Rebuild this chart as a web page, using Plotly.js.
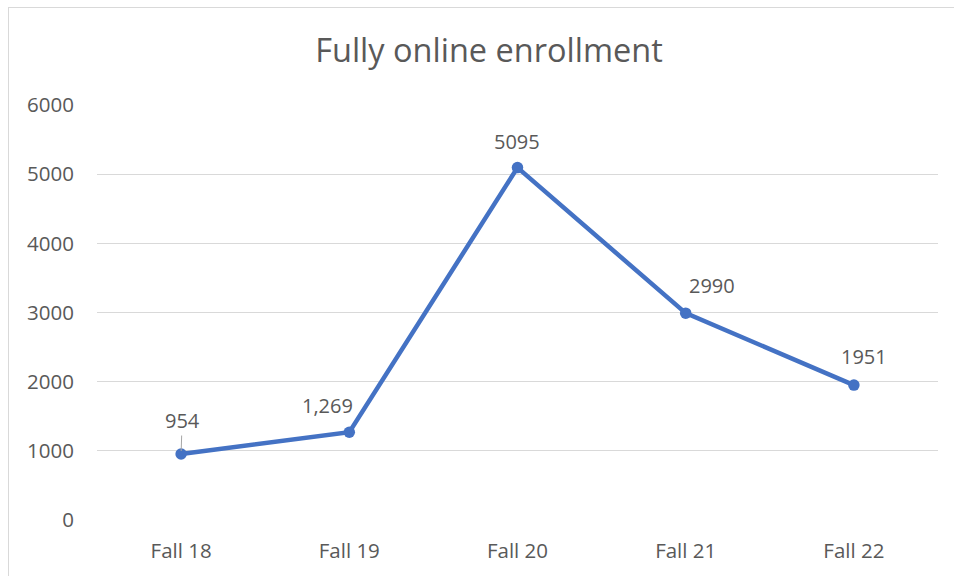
<!DOCTYPE html>
<html>
<head>
<meta charset="utf-8">
<script src="https://cdn.plot.ly/plotly-3.0.1.min.js"></script>
<style>
  html, body { margin: 0; padding: 0; background: #ffffff; }
  #frame { position: absolute; left: 8px; top: 7px; width: 960px; height: 600px; border: 1px solid #d9d9d9; box-sizing: border-box; }
  #chart { position: absolute; left: 0; top: 0; width: 954px; height: 576px; }
</style>
</head>
<body>
<div id="frame"></div>
<div id="chart"></div>
<script>
const categories = ["Fall 18", "Fall 19", "Fall 20", "Fall 21", "Fall 22"];
const enrollment = [954, 1269, 5095, 2990, 1951];
const valueLabels = ["954", "1,269", "5095", "2990", "1951"];
const yTicks = [0, 1000, 2000, 3000, 4000, 5000, 6000];

const FONT = "Open Sans, sans-serif";
const TEXT = "#595959";
const BLUE = "#4472C4";

const labelShift = [[1, 33.5], [-22, 26.5], [-1, 26.5], [26, 28], [10.5, 29]];

const annotations = categories.map((c, i) => {
  const base = {
    x: c, y: enrollment[i], xref: "x", yref: "y",
    text: valueLabels[i],
    font: { family: FONT, size: 20, color: TEXT }
  };
  if (i === 0) {
    return Object.assign(base, {
      showarrow: true, arrowhead: 0, arrowwidth: 1, arrowcolor: "#a6a6a6",
      ax: labelShift[i][0], ay: -labelShift[i][1], standoff: 3
    });
  }
  return Object.assign(base, {
    showarrow: false, xshift: labelShift[i][0], yshift: labelShift[i][1]
  });
});

const trace = {
  type: "scatter", mode: "lines+markers",
  x: categories, y: enrollment,
  line: { color: BLUE, width: 4.5 },
  marker: { color: BLUE, size: 11.5 },
  hoverinfo: "x+y"
};

const layout = {
  width: 954, height: 576,
  paper_bgcolor: "rgba(0,0,0,0)", plot_bgcolor: "rgba(0,0,0,0)",
  margin: { l: 97, r: 16, t: 105, b: 56, pad: 0 },
  showlegend: false,
  title: {
    text: "Fully online enrollment",
    font: { family: FONT, size: 32.5, color: TEXT },
    xref: "container", yref: "container",
    x: 489 / 954, xanchor: "center",
    y: 1 - 51 / 576, yanchor: "middle"
  },
  xaxis: {
    type: "category", range: [-0.5, 4.5],
    showgrid: false, zeroline: false, showline: false,
    ticks: "outside", ticklen: 12, tickcolor: "rgba(0,0,0,0)",
    tickfont: { family: FONT, size: 20.5, color: TEXT }
  },
  yaxis: {
    range: [0, 6000], tickvals: yTicks, ticktext: yTicks.map(String),
    showgrid: true, gridcolor: "#d9d9d9", gridwidth: 1.3,
    zeroline: false, showline: false,
    ticks: "outside", ticklen: 18, tickcolor: "rgba(0,0,0,0)",
    tickfont: { family: FONT, size: 20.5, color: TEXT }
  },
  annotations: annotations
};

Plotly.newPlot("chart", [trace], layout, { displayModeBar: false, staticPlot: true });
</script>
</body>
</html>
